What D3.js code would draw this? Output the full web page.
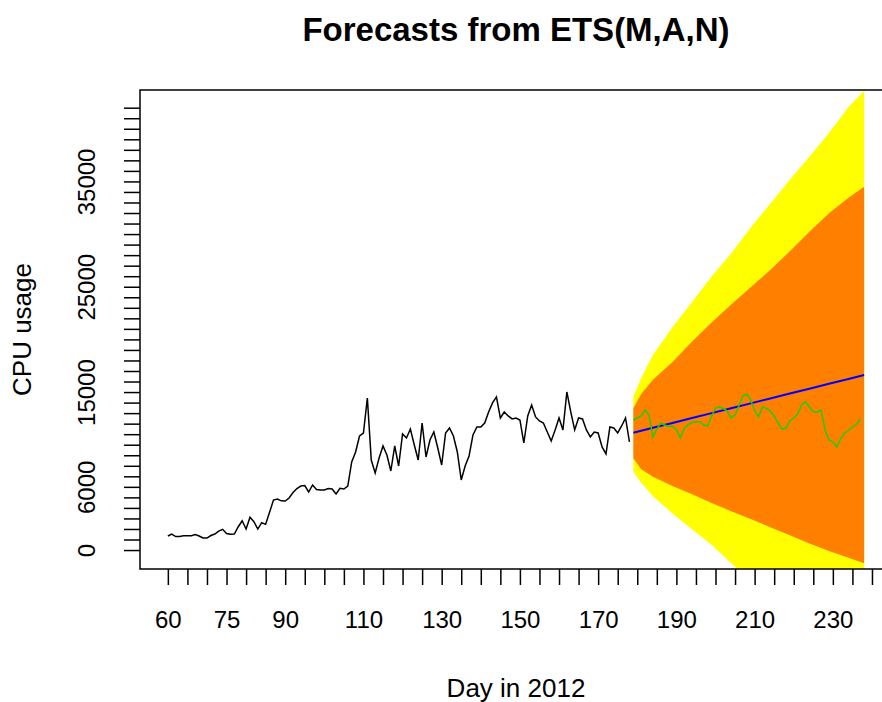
<!DOCTYPE html>
<html>
<head>
<meta charset="utf-8">
<script src="https://cdn.jsdelivr.net/npm/d3@7"></script>
<style>
body { margin: 0; background: #fff; }
text { font-family: "Liberation Sans", Arial, sans-serif; fill: #000; }
.title { font-weight: bold; font-size: 33px; }
.label { font-size: 26px; }
.tick text { font-size: 24px; }
.tick line { stroke: #000; stroke-width: 1.5; }
</style>
</head>
<body>
<div id="chart"></div>
<script>
var width = 882;
var height = 702;

// plot box (R leaves its right edge just off the picture)
var plot_left = 140;
var plot_right = 892;
var plot_top = 90;
var plot_bottom = 569;

var COLOR_95 = '#ffff00';
var COLOR_80 = '#ff8000';
var COLOR_MEAN = '#0000ff';
var COLOR_TEST = '#22cc00';

// observed CPU usage, one value per day starting at day 60
var histStart = 60;
var histValues = [
    1330, 1520, 1283, 1283, 1359, 1359, 1359, 1473, 1330, 1140,
    1140, 1378, 1520, 1805, 1967, 1568, 1501, 1520, 2214, 2784,
    1995, 3107, 2689, 1995, 2594, 2442, 3582, 4750, 4845, 4674,
    4655, 4940, 5463, 5843, 6080, 6128, 5510, 6175, 5748, 5700,
    5700, 5843, 5795, 5320, 5862, 5795, 6080, 8360, 9310, 10830,
    11115, 14440, 8550, 7315, 8740, 9880, 9025, 7505, 9880, 7980,
    11020, 10640, 11495, 9975, 8550, 12065, 8835, 10450, 11210, 9690,
    8075, 11115, 11590, 10830, 9310, 6650, 7980, 8930, 10925, 11685,
    11685, 12065, 13110, 13965, 14535, 12540, 13110, 12730, 12445, 12540,
    12350, 10165, 12730, 13775, 12635, 12255, 12065, 11210, 10355, 11400,
    12540, 11400, 15010, 13110, 11400, 12540, 12445, 11400, 10735, 11210,
    11115, 9785, 9120, 11685, 11590, 11115, 11780, 12540, 10260
];

// forecast from ETS(M,A,N)
var fcDays    = [179, 181, 184, 189, 194, 199, 204, 209, 214, 219, 224, 229, 234, 238];
var fcMean    = [11140, 11326, 11604, 12069, 12533, 12998, 13462, 13927, 14391, 14856, 15320, 15785, 16249, 16620];
var fcUpper95 = [14558, 16334, 18519, 21149, 23561, 25973, 28167, 30636, 32877, 35147, 37350, 39592, 42061, 43600];
var fcUpper80 = [13457, 14815, 16173, 17863, 19791, 21595, 23305, 24948, 26591, 28366, 30228, 31975, 33438, 34501];
var fcLower80 = [8708, 7664, 6952, 6087, 5309, 4463, 3694, 2953, 2175, 1396, 627, -95, -731, -1263];
var fcLower95 = [7436, 6401, 5109, 3476, 1975, 494, -1244, -2850, -4370, -5800, -7120, -8450, -9690, -10730];

// held-out actual values, one per day starting at day 179
var testStart = 179;
var testValues = [
    12346, 12536, 12725, 13295, 12820, 10731, 11491, 12061, 11871, 11728,
    11776, 11396, 10636, 11538, 11909, 12108, 12184, 12184, 11871, 11776,
    12725, 13485, 13609, 13438, 13200, 12536, 12821, 13723, 14625, 14815,
    14245, 13248, 12631, 13580, 13457, 13200, 12725, 12061, 11491, 11586,
    12251, 12536, 12915, 13770, 14084, 13580, 13105, 13105, 13295, 11396,
    10446, 10275, 9782, 10589, 11111, 11348, 11681, 11918, 12441
];

var xTicks = d3.range(60, 250, 5);
var xLabels = [60, 75, 90, 110, 130, 150, 170, 190, 210, 230];
var yTicks = d3.range(0, 43000, 1000);
var yLabels = [0, 6000, 15000, 25000, 35000];

var svg = d3.select('#chart')
    .append('svg')
    .attr('width', width)
    .attr('height', height)

var x = d3.scaleLinear()
    .domain([60 - 0.04 * 178, 238 + 0.04 * 178])
    .range([plot_left, plot_right]);

var y = d3.scaleLinear()
    .domain([-1800, 43680])
    .range([plot_bottom, plot_top]);

svg.append('clipPath')
    .attr('id', 'plot-clip')
    .append('rect')
    .attr('x', plot_left)
    .attr('y', plot_top)
    .attr('width', plot_right - plot_left)
    .attr('height', plot_bottom - plot_top)

var fc = fcDays.map(function (d, i) {
    return {
        day: d, mean: fcMean[i],
        lo80: fcLower80[i], hi80: fcUpper80[i],
        lo95: fcLower95[i], hi95: fcUpper95[i]
    };
});

var g = svg.append('g').attr('clip-path', 'url(#plot-clip)');

g.append('path')
    .datum(fc)
    .attr('fill', COLOR_95)
    .attr('d', d3.area()
        .x(function (d) { return x(d.day); })
        .y0(function (d) { return y(d.lo95); })
        .y1(function (d) { return y(d.hi95); }))

g.append('path')
    .datum(fc)
    .attr('fill', COLOR_80)
    .attr('d', d3.area()
        .x(function (d) { return x(d.day); })
        .y0(function (d) { return y(d.lo80); })
        .y1(function (d) { return y(d.hi80); }))

g.append('path')
    .datum(histValues)
    .attr('fill', 'none')
    .attr('stroke', '#000')
    .attr('stroke-width', 1.5)
    .attr('d', d3.line()
        .x(function (d, i) { return x(histStart + i); })
        .y(function (d) { return y(d); }))

g.append('path')
    .datum(fc)
    .attr('fill', 'none')
    .attr('stroke', COLOR_MEAN)
    .attr('stroke-width', 2)
    .attr('d', d3.line()
        .x(function (d) { return x(d.day); })
        .y(function (d) { return y(d.mean); }))

g.append('path')
    .datum(testValues)
    .attr('fill', 'none')
    .attr('stroke', COLOR_TEST)
    .attr('stroke-width', 1.5)
    .attr('d', d3.line()
        .x(function (d, i) { return x(testStart + i); })
        .y(function (d) { return y(d); }))

// axes
var xAxis = svg.append('g')
    .attr('transform', 'translate(0,' + plot_bottom + ')')
    .call(d3.axisBottom(x)
        .tickValues(xTicks)
        .tickSize(16)
        .tickPadding(26)
        .tickFormat(function (d) { return xLabels.indexOf(d) >= 0 ? d : ''; }))
xAxis.select('.domain').remove();

var yAxis = svg.append('g')
    .attr('transform', 'translate(' + plot_left + ',0)')
    .call(d3.axisLeft(y)
        .tickValues(yTicks)
        .tickSize(16)
        .tickFormat(function (d) { return yLabels.indexOf(d) >= 0 ? d : ''; }))
yAxis.select('.domain').remove();
yAxis.selectAll('.tick text')
    .attr('transform', 'rotate(-90)')
    .attr('x', 0)
    .attr('y', -45)
    .attr('dy', 0)
    .attr('text-anchor', 'middle')

svg.append('rect')
    .attr('x', plot_left)
    .attr('y', plot_top)
    .attr('width', plot_right - plot_left)
    .attr('height', plot_bottom - plot_top)
    .attr('fill', 'none')
    .attr('stroke', '#000')
    .attr('stroke-width', 1.5)

svg.append('text')
    .attr('class', 'title')
    .attr('x', (plot_left + plot_right) / 2)
    .attr('y', 41)
    .attr('text-anchor', 'middle')
    .text('Forecasts from ETS(M,A,N)')

svg.append('text')
    .attr('class', 'label')
    .attr('x', (plot_left + plot_right) / 2)
    .attr('y', 697)
    .attr('text-anchor', 'middle')
    .text('Day in 2012')

svg.append('text')
    .attr('class', 'label')
    .attr('transform', 'translate(31,' + (plot_top + plot_bottom) / 2 + ') rotate(-90)')
    .attr('text-anchor', 'middle')
    .text('CPU usage')
</script>
</body>
</html>
